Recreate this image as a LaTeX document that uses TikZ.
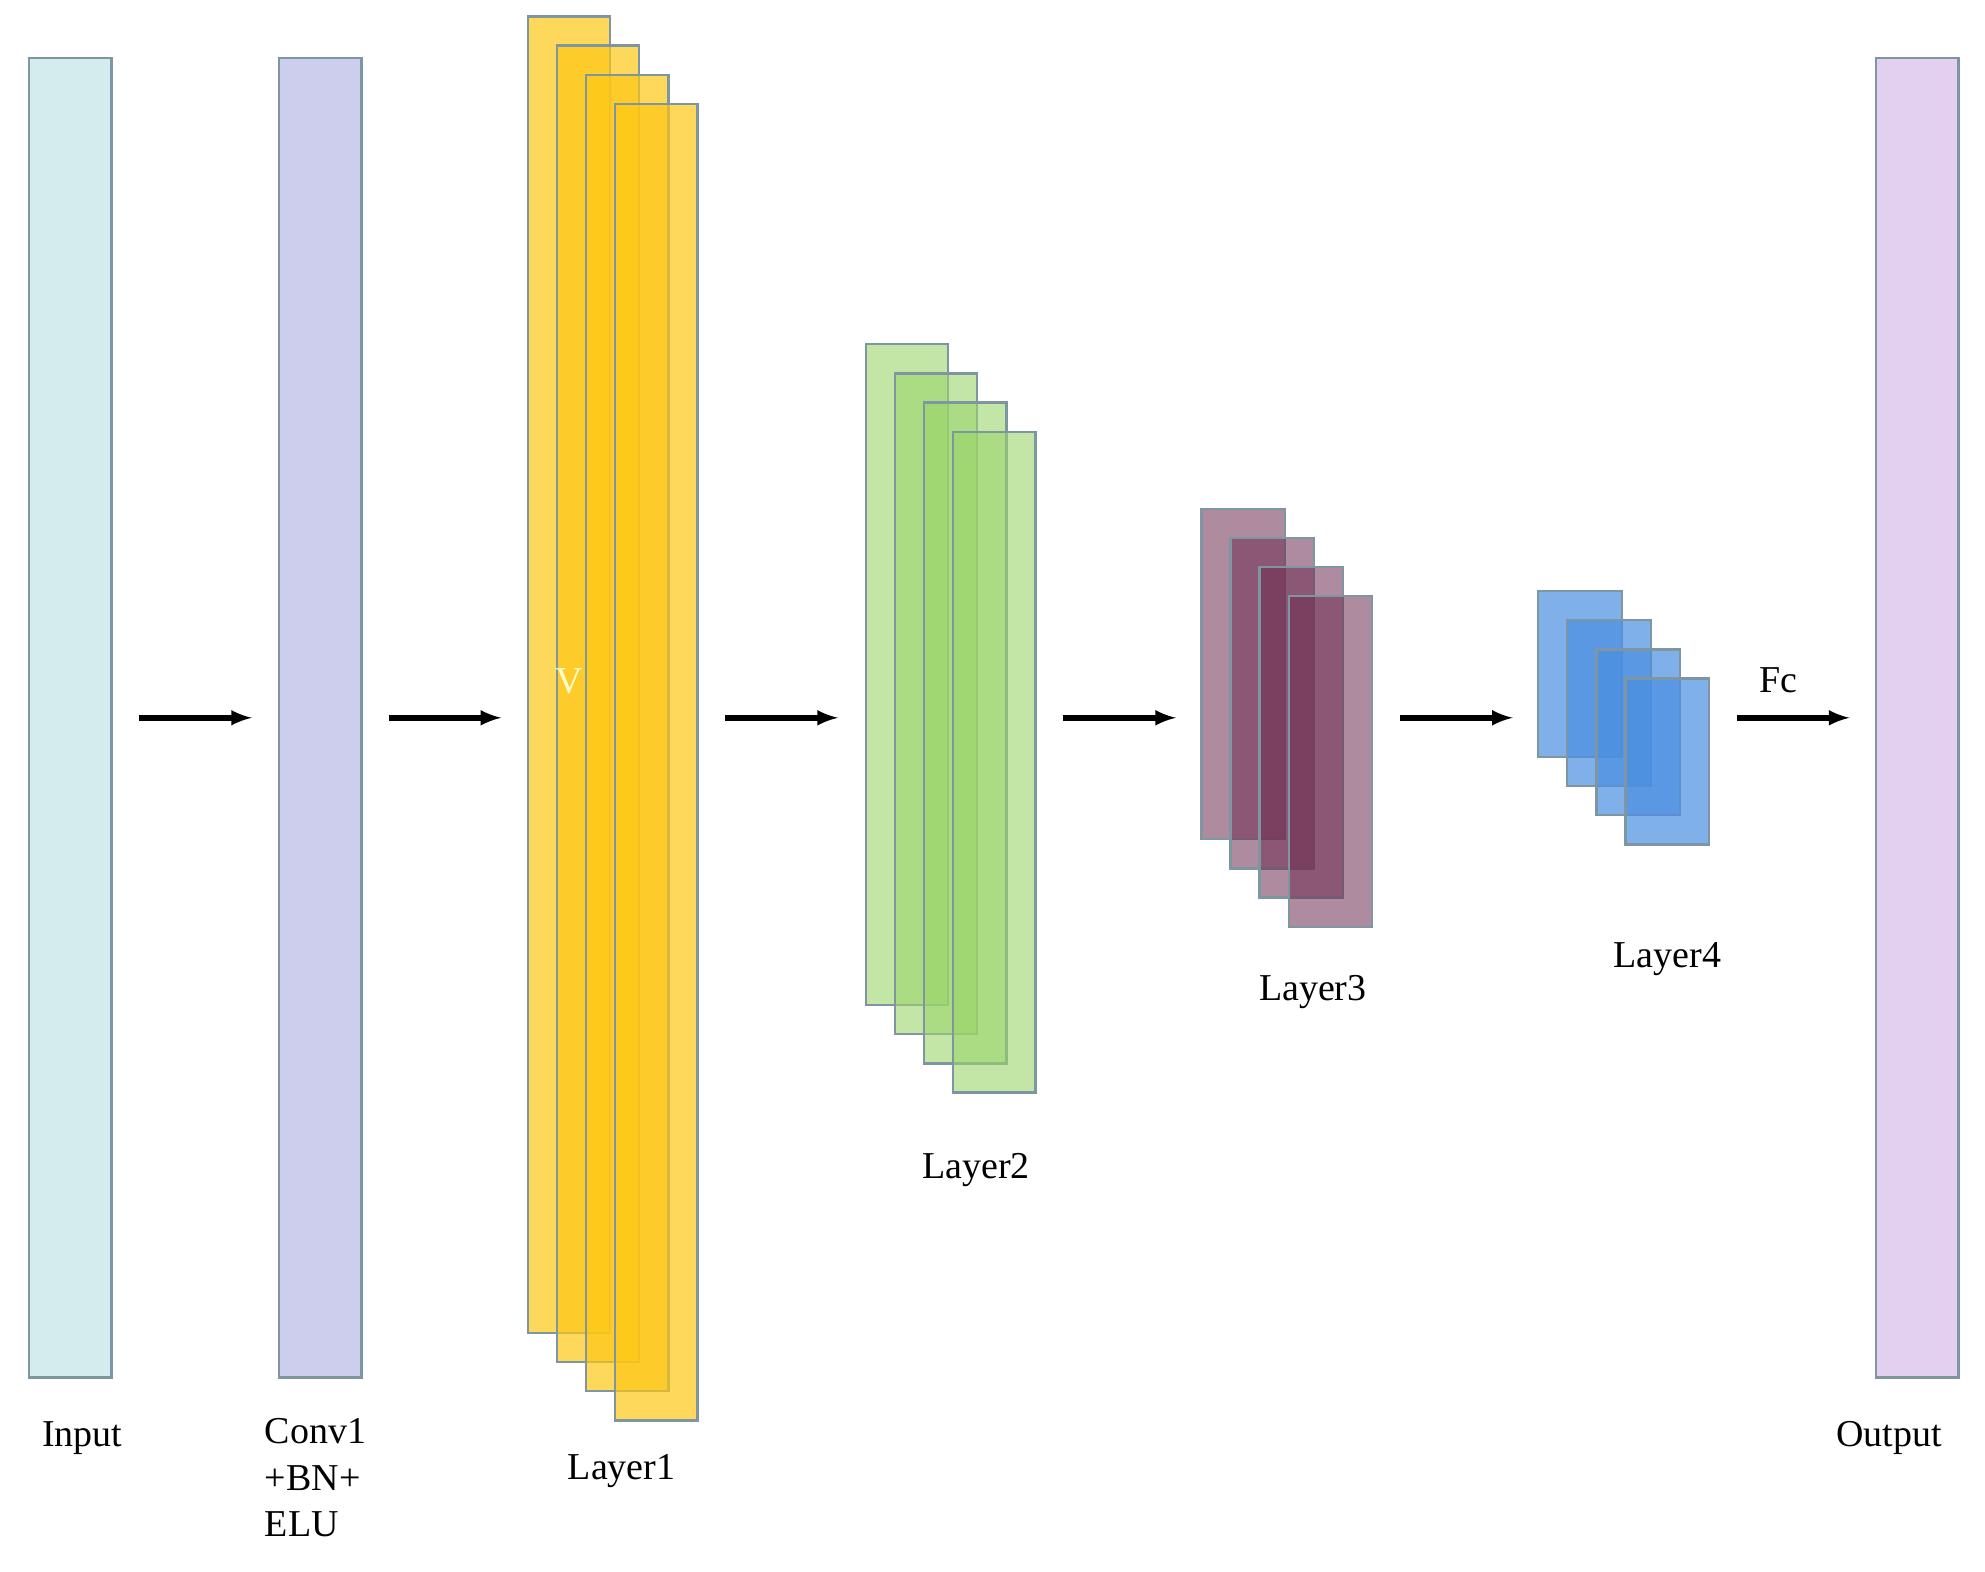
\documentclass[tikz,border=0pt]{standalone}
\usepackage{fontspec}
\setmainfont{Liberation Serif}
\begin{document}
\begin{tikzpicture}[x=1pt,y=-1pt,
  bar/.style={draw=#1!70!black!50!cyan!40!gray, line width=1.5pt},
  edge/.style={draw=black!20!cyan!30!gray, line width=1.8pt},
  arr/.style={-latex, line width=4.5pt, black, shorten >=0pt},
  lbl/.style={font=\fontsize{30}{37}\selectfont, inner sep=0pt}]
\useasboundingbox (0,0) rectangle (1568,1241);
\definecolor{cin}{HTML}{D4ECEE}
\definecolor{cconv}{HTML}{CDCDEE}
\definecolor{cout}{HTML}{E3CFF0}
\definecolor{cl1}{HTML}{FDC715}
\definecolor{cl2}{HTML}{9BD46A}
\definecolor{cl3}{HTML}{6E2C50}
\definecolor{cl4}{HTML}{4A8EE0}
\tikzset{box/.style={edge, fill=#1}}
\node[box=cin, minimum width=65pt, minimum height=1042pt, inner sep=0pt] (in) at (55.5,567) {};
\node[box=cconv, minimum width=65pt, minimum height=1042pt, inner sep=0pt] (conv) at (253,567) {};
\node[box=cout, minimum width=65pt, minimum height=1042pt, inner sep=0pt] (out) at (1514.5,567) {};
% layer stacks
\foreach \i in {0,1,2,3}{
  \fill[cl1, fill opacity=0.7] (417+23*\i,13+23*\i) rectangle ++(65,1040);
  \draw[edge] (417+23*\i,13+23*\i) rectangle ++(65,1040);
  \fill[cl2, fill opacity=0.6] (684+23*\i,272+23*\i) rectangle ++(65,522);
  \draw[edge] (684+23*\i,272+23*\i) rectangle ++(65,522);
  \fill[cl3, fill opacity=0.55] (949+23*\i,402+23*\i) rectangle ++(66,261);
  \draw[edge] (949+23*\i,402+23*\i) rectangle ++(66,261);
  \fill[cl4, fill opacity=0.7] (1215+23*\i,467+23*\i) rectangle ++(66,131);
  \draw[edge] (1215+23*\i,467+23*\i) rectangle ++(66,131);
}
\node[lbl, text=white!80!yellow] (v) at (450,538) {V};
\coordinate (a1) at (110,567); \coordinate (b1) at (199,567);
\coordinate (a2) at (307,567); \coordinate (b2) at (396,567);
\coordinate (a3) at (573,567); \coordinate (b3) at (662,567);
\coordinate (a4) at (840,567); \coordinate (b4) at (929,567);
\coordinate (a5) at (1106,567); \coordinate (b5) at (1195,567);
\coordinate (a6) at (1372,567); \coordinate (b6) at (1461,567);
\foreach \k in {1,...,6} \draw[arr] (a\k) -- (b\k);
\node[lbl] (fc) at (1405,537) {Fc};
\node[lbl] (tin) at (65,1136) {Input};
\node[lbl, anchor=north west, align=left] (tconv) at (209,1120) {Conv1\\+BN+\\ELU};
\node[lbl] (t1) at (491,1162) {Layer1};
\node[lbl] (t2) at (771,924) {Layer2};
\node[lbl] (t3) at (1037,784) {Layer3};
\node[lbl] (t4) at (1317,758) {Layer4};
\node[lbl] (tout) at (1492,1136) {Output};
\end{tikzpicture}
\end{document}
